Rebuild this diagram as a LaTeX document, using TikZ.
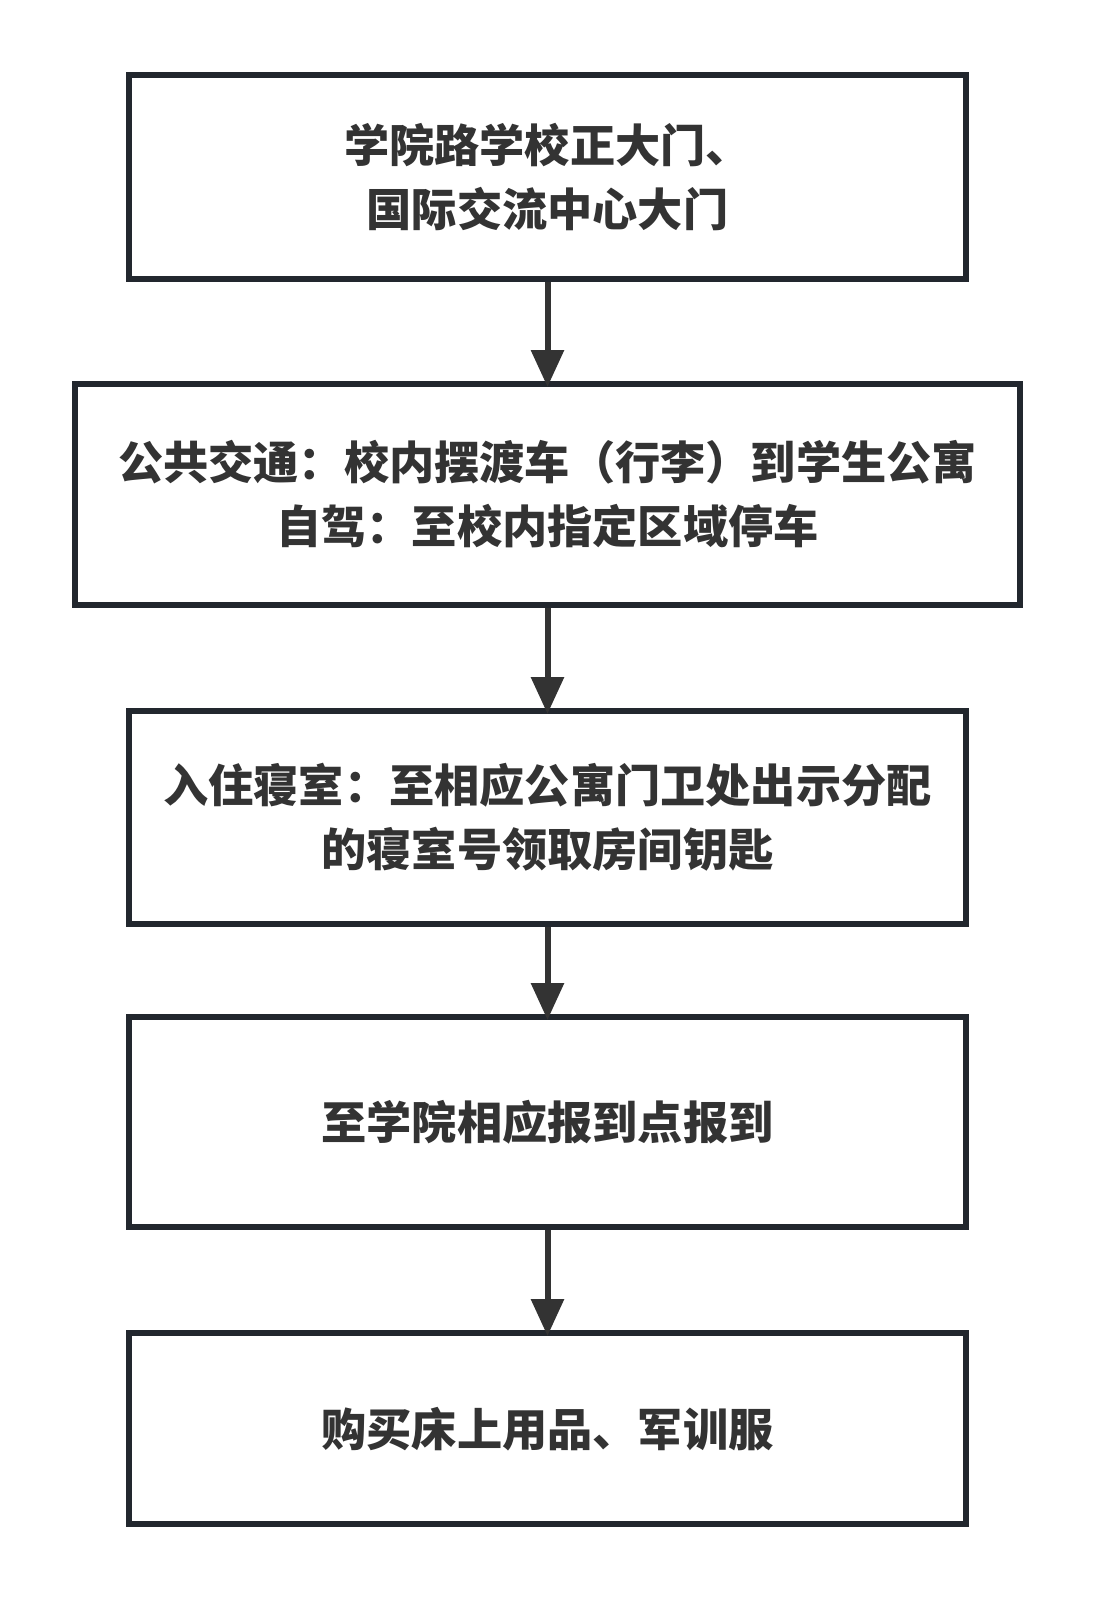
\documentclass[tikz,border=0pt]{standalone}
\usepackage{fontspec}
\newfontfamily\cjk{Noto Sans CJK SC}
\usetikzlibrary{arrows.meta}
\definecolor{boxline}{HTML}{22272E}
\definecolor{txt}{HTML}{333333}
\tikzset{
  stepbox/.style={draw=boxline, line width=3pt, fill=white},
  lbl/.style={text=txt, align=center, font=\cjk\bfseries\fontsize{22.6}{32}\selectfont},
  conn/.style={draw=txt, line width=3pt, -{Triangle[length=18.5pt,width=16pt]}, shorten >=-1.5pt}
}
\begin{document}
\begin{tikzpicture}[x=0.5pt,y=-0.5pt]
\useasboundingbox[fill=white] (0,0) rectangle (1095,1600);
\draw[stepbox] (129,75) rectangle (966,279);
\draw[stepbox] (75,384) rectangle (1020,605);
\draw[stepbox] (129,711) rectangle (966,924);
\draw[stepbox] (129,1017) rectangle (966,1227);
\draw[stepbox] (129,1333) rectangle (966,1524);
\coordinate (b1t) at (547.5,75);
\coordinate (b1b) at (547.5,279);
\coordinate (b2t) at (547.5,384);
\coordinate (b2b) at (547.5,605);
\coordinate (b3t) at (547.5,711);
\coordinate (b3b) at (547.5,924);
\coordinate (b4t) at (547.5,1017);
\coordinate (b4b) at (547.5,1227);
\coordinate (b5t) at (547.5,1333);
\node[lbl] (t1) at (547.5,177) {学院路学校正大门、\\国际交流中心大门};
\node[lbl] (t2) at (547.5,494.5) {公共交通：校内摆渡车（行李）到学生公寓\\自驾：至校内指定区域停车};
\node[lbl] (t3) at (547.5,817) {入住寝室：至相应公寓门卫处出示分配\\的寝室号领取房间钥匙};
\node[lbl] (t4) at (547.5,1122) {至学院相应报到点报到};
\node[lbl] (t5) at (547.5,1429) {购买床上用品、军训服};
\draw[conn] ([yshift=-1.5pt]b1b) -- (b2t);
\draw[conn] ([yshift=-1.5pt]b2b) -- (b3t);
\draw[conn] ([yshift=-1.5pt]b3b) -- (b4t);
\draw[conn] ([yshift=-1.5pt]b4b) -- (b5t);
\end{tikzpicture}
\end{document}
